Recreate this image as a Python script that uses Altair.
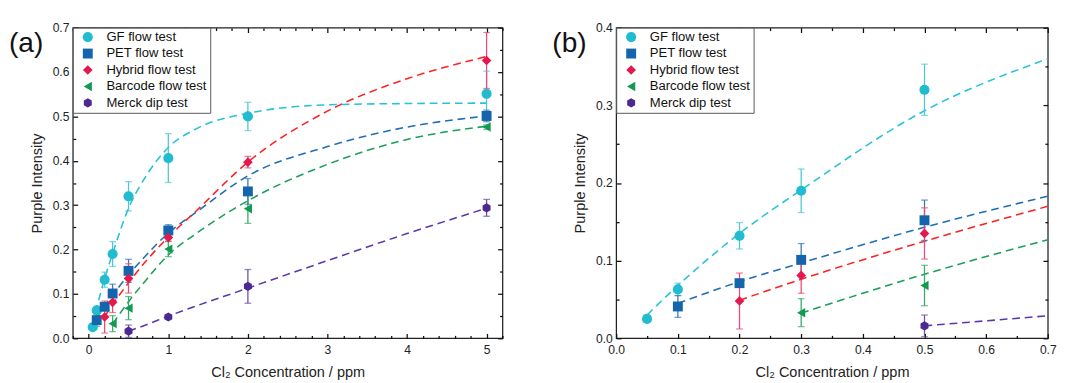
import altair as alt
import pandas as pd

# ---------------- data ----------------
series = ["GF flow test", "PET flow test", "Hybrid flow test", "Barcode flow test", "Merck dip test"]
panel_tags = ["(a)", "(b)"]

# measured points (x in ppm, mean intensity, error half-width)
gf_x = [0.05, 0.1, 0.2, 0.3, 0.5, 1, 2, 5]
gf_y = [0.025, 0.063, 0.132, 0.190, 0.320, 0.406, 0.500, 0.551]
gf_err = [0.004, 0.008, 0.017, 0.028, 0.033, 0.055, 0.032, 0.051]

pet_x = [0.1, 0.2, 0.3, 0.5, 1, 2, 5]
pet_y = [0.041, 0.071, 0.101, 0.152, 0.243, 0.331, 0.501]
pet_err = [0.014, 0.004, 0.021, 0.026, 0.013, 0.029, 0.013]

hyb_x = [0.2, 0.3, 0.5, 1, 2, 5]
hyb_y = [0.048, 0.081, 0.135, 0.227, 0.397, 0.626]
hyb_err = [0.036, 0.023, 0.033, 0.008, 0.013, 0.063]

bar_x = [0.3, 0.5, 1, 2, 5]
bar_y = [0.033, 0.068, 0.201, 0.292, 0.476]
bar_err = [0.018, 0.026, 0.017, 0.033, 0.005]

mer_x = [0.5, 1, 2, 5]
mer_y = [0.016, 0.048, 0.117, 0.294]
mer_err = [0.014, 0.004, 0.038, 0.019]

# fitted (dashed) curves
gf_fx = [0.05, 0.1, 0.2, 0.3, 0.5, 0.7, 1, 1.35, 2, 3, 4, 5]
gf_fy = [0.030, 0.068, 0.135, 0.191, 0.293, 0.360, 0.430, 0.472, 0.507, 0.526, 0.529, 0.530]

pet_fx = [0.1, 0.2, 0.3, 0.5, 0.7, 1, 1.35, 2, 3, 4, 5]
pet_fy = [0.045, 0.073, 0.097, 0.143, 0.183, 0.237, 0.284, 0.366, 0.432, 0.476, 0.501]

hyb_fx = [0.2, 0.3, 0.5, 0.7, 1, 1.35, 2, 3, 4, 5]
hyb_fy = [0.049, 0.076, 0.125, 0.170, 0.228, 0.287, 0.397, 0.512, 0.585, 0.635]

bar_fx = [0.3, 0.5, 0.7, 1, 1.35, 2, 3, 4, 5]
bar_fy = [0.0325, 0.0825, 0.127, 0.188, 0.236, 0.310, 0.392, 0.448, 0.478]

mer_fx = [0.5, 0.7, 1, 2, 3, 4, 5]
mer_fy = [0.016, 0.029, 0.050, 0.113, 0.175, 0.236, 0.293]

# axis ticks
a_x_major = [0, 1, 2, 3, 4, 5]
a_x_minor = [-0.2, 0.2, 0.4, 0.6, 0.8, 1.2, 1.4, 1.6, 1.8, 2.2, 2.4, 2.6, 2.8,
             3.2, 3.4, 3.6, 3.8, 4.2, 4.4, 4.6, 4.8, 5.2]
a_y_major = [0.0, 0.1, 0.2, 0.3, 0.4, 0.5, 0.6, 0.7]
a_y_minor = [0.05, 0.15, 0.25, 0.35, 0.45, 0.55, 0.65]
b_x_major = [0.0, 0.1, 0.2, 0.3, 0.4, 0.5, 0.6, 0.7]
b_x_minor = [0.05, 0.15, 0.25, 0.35, 0.45, 0.55, 0.65]
b_y_major = [0.0, 0.1, 0.2, 0.3, 0.4]
b_y_minor = [0.05, 0.15, 0.25, 0.35]

# ---------------- styles ----------------
marker_colors = ["#22bcd0", "#1565ad", "#e5174f", "#129b50", "#4b2991"]
bar_colors = ["#4fc7d8", "#3577b8", "#e84c76", "#35a86a", "#6a4fa5"]
line_colors = ["#26c2d8", "#1e6db5", "#ff2020", "#1a9f5a", "#5b36ac"]
hexagon = "M0,-1L0.866,-0.5L0.866,0.5L0,1L-0.866,0.5L-0.866,-0.5Z"
shape_list = ["circle", "square", "diamond", "triangle-left", hexagon]
marker_sizes = [110, 90, 180, 160, 125]
FONT = "Liberation Sans"
TICK_COLOR = "#111111"
MAJOR = 5
MINOR = 3

meas_sets = [(gf_x, gf_y, gf_err), (pet_x, pet_y, pet_err), (hyb_x, hyb_y, hyb_err),
             (bar_x, bar_y, bar_err), (mer_x, mer_y, mer_err)]
fit_sets = [(gf_fx, gf_fy), (pet_fx, pet_fy), (hyb_fx, hyb_fy), (bar_fx, bar_fy), (mer_fx, mer_fy)]


def measured_table(xmax):
    rows = []
    for name, (xs, ys, es) in zip(series, meas_sets):
        for x, y, e in zip(xs, ys, es):
            if x <= xmax:
                rows.append({"series": name, "x": x, "y": y, "lo": y - e, "hi": y + e})
    return pd.DataFrame(rows)


def fit_table(xmax):
    rows = []
    for name, (xs, ys) in zip(series, fit_sets):
        for x, y in zip(xs, ys):
            if x <= xmax + 1e-9:
                rows.append({"series": name, "fx": x, "fy": y})
    return pd.DataFrame(rows)


def tick_axis(orient, values, size):
    return alt.Axis(orient=orient, values=values, offset=-size, tickSize=size, labels=False,
                    domain=False, grid=False, title=None, ticks=True,
                    tickColor=TICK_COLOR, tickWidth=1.3)


legend = alt.Legend(title="\u00a0", titleOrient="left", titleFontSize=1, titlePadding=5.7,
                    orient="top-left", offset=0, padding=3, strokeColor="#555555",
                    fillColor="white", labelFontSize=13.5, labelFont=FONT, labelColor="#111",
                    symbolSize=90, rowPadding=2, labelOffset=12.5,
                    symbolStrokeWidth=0, symbolOpacity=1)


def panel(meas, fit, xdom, ydom, xmaj, xmin_, ymaj, ymin_, xfmt, tag, w, h):
    xs = alt.Scale(domain=xdom, nice=False, zero=False)
    ys = alt.Scale(domain=ydom, nice=False, zero=False)

    lines = alt.Chart(fit).mark_line(strokeDash=[8, 5], strokeWidth=1.6,
                                     interpolate="monotone", clip=True).encode(
        x=alt.X("fx:Q", scale=xs, axis=tick_axis("bottom", xmin_, MINOR)),
        y=alt.Y("fy:Q", scale=ys, axis=tick_axis("left", ymin_, MINOR)),
        color=alt.Color("series:N", scale=alt.Scale(domain=series, range=line_colors), legend=None),
    )

    rules = alt.Chart(meas).mark_rule(strokeWidth=1.3).encode(
        x=alt.X("x:Q", scale=xs, axis=tick_axis("top", xmaj, MAJOR)),
        y=alt.Y("lo:Q", scale=ys, axis=tick_axis("right", ymaj, MAJOR)),
        y2="hi:Q",
        color=alt.Color("series:N", scale=alt.Scale(domain=series, range=bar_colors), legend=None),
    )

    caps = alt.Chart(meas).transform_fold(["lo", "hi"], as_=["end", "cv"]).mark_tick(
        orient="horizontal", size=7, thickness=1.3).encode(
        x=alt.X("x:Q", scale=xs, axis=tick_axis("top", xmin_, MINOR)),
        y=alt.Y("cv:Q", scale=ys, axis=tick_axis("right", ymin_, MINOR)),
        color=alt.Color("series:N", scale=alt.Scale(domain=series, range=bar_colors), legend=None),
    )

    points = alt.Chart(meas).mark_point(filled=True, opacity=1, strokeWidth=0).encode(
        x=alt.X("x:Q", scale=xs,
                axis=alt.Axis(orient="bottom", values=xmaj, format=xfmt, offset=-MAJOR, tickSize=MAJOR,
                              domain=False, grid=False, labelFlush=False, labelOverlap=False,
                              labelPadding=6, titlePadding=9, ticks=True,
                              tickColor=TICK_COLOR, tickWidth=1.3,
                              title="Cl\u2082 Concentration / ppm")),
        y=alt.Y("y:Q", scale=ys,
                axis=alt.Axis(orient="left", values=ymaj, format=".1f", offset=-MAJOR, tickSize=MAJOR,
                              domain=False, grid=False, labelFlush=False, labelOverlap=False,
                              labelPadding=4, titlePadding=8, ticks=True,
                              tickColor=TICK_COLOR, tickWidth=1.3,
                              title="Purple Intensity")),
        color=alt.Color("series:N", scale=alt.Scale(domain=series, range=marker_colors), legend=legend),
        shape=alt.Shape("series:N", scale=alt.Scale(domain=series, range=shape_list), legend=legend),
        size=alt.Size("series:N", scale=alt.Scale(domain=series, range=marker_sizes), legend=None),
    )

    label = alt.Chart(pd.DataFrame({"t": [tag]})).mark_text(
        align="left", baseline="alphabetic", fontSize=29, font=FONT, color="#111").encode(
        x=alt.value(-66), y=alt.value(25), text="t:N")

    return alt.layer(lines, rules, caps, points, label).resolve_scale(
        color="independent", shape="independent", size="independent"
    ).resolve_axis(x="independent", y="independent").properties(width=w, height=h)


left = panel(measured_table(10), fit_table(10), [-0.2, 5.2], [0, 0.7],
             a_x_major, a_x_minor, a_y_major, a_y_minor, "d", panel_tags[0], 444, 321)
right = panel(measured_table(0.7), fit_table(0.7), [0, 0.7], [0, 0.4],
              b_x_major, b_x_minor, b_y_major, b_y_minor, ".1f", panel_tags[1], 446, 321)

chart = alt.hconcat(left, right, spacing=48.5).properties(
    padding={"left": 0, "top": 7, "right": 0, "bottom": 0}
).configure(font=FONT).configure_view(
    stroke="#222", strokeWidth=1.3
).configure_axis(
    labelFont=FONT, labelFontSize=12.5, labelColor="#222",
    titleFont=FONT, titleFontSize=15, titleFontWeight="normal", titleColor="#222",
)

chart.save("out.html", embed_options={"renderer": "svg", "actions": False})
